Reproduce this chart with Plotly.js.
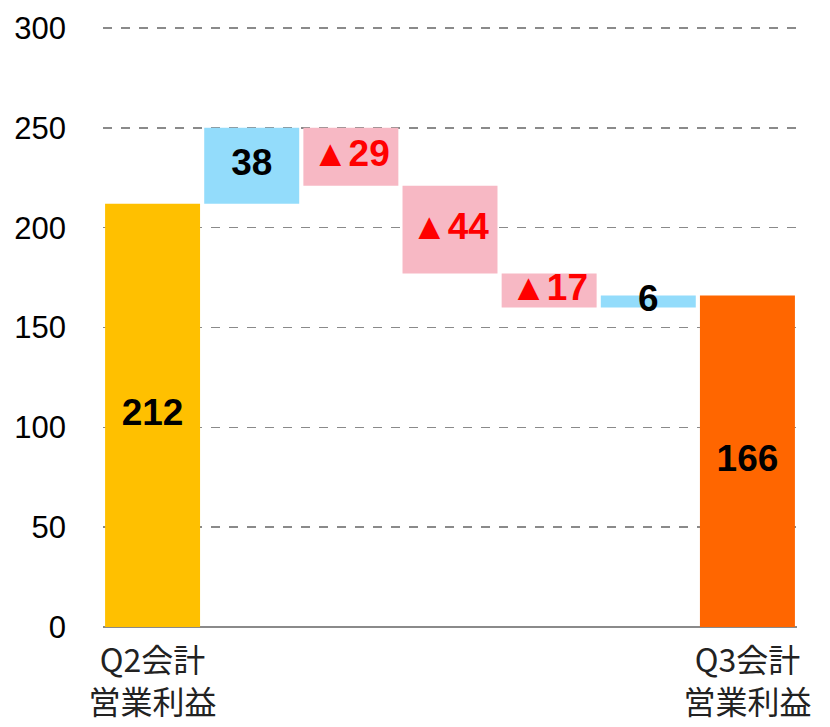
<!DOCTYPE html>
<html>
<head>
<meta charset="utf-8">
<script src="https://cdn.plot.ly/plotly-3.0.1.min.js"></script>
<style>html,body{margin:0;padding:0;background:#fff;}#chart{width:830px;height:727px;}</style>
</head>
<body>
<div id="chart"></div>
<script>
// Data
const categories = ["Q2会計営業利益", "増益要因", "減益要因A", "減益要因B", "減益要因C", "その他", "Q3会計営業利益"];
const values = [212, 38, -29, -44, -17, 6, 166];
const kinds = ["total", "relative", "relative", "relative", "relative", "relative", "total"];
const labels = ["212", "38", "▲29", "▲44", "▲17", "6", "166"];
const tickLabels = ["Q2会計<br>営業利益", "Q3会計<br>営業利益"];
const tickCats = [categories[0], categories[6]];
const yTicks = [0, 50, 100, 150, 200, 250, 300];

// Colors
const colTotalStart = "#FFC000";
const colTotalEnd = "#FF6600";
const colUp = "#93DCFB";
const colDown = "#F7B8C4";

// Compute bases and heights from values
const bases = [], heights = [], colors = [], mids = [], textColors = [];
let run = 0;
values.forEach((v, i) => {
  if (kinds[i] === "total") {
    bases.push(0); heights.push(v); run = v;
    colors.push(i === 0 ? colTotalStart : colTotalEnd);
    textColors.push("#000");
  } else {
    const lo = v >= 0 ? run : run + v;
    bases.push(lo); heights.push(Math.abs(v));
    run += v;
    colors.push(v >= 0 ? colUp : colDown);
    textColors.push(v >= 0 ? "#000" : "#FF0000");
  }
  mids.push(bases[i] + heights[i] / 2);
});

const barTrace = {
  type: "bar",
  x: categories,
  y: heights,
  base: bases,
  marker: {color: colors, line: {width: 0}},
  hoverinfo: "skip",
  showlegend: false
};

const textTrace = {
  type: "scatter",
  mode: "text",
  x: categories,
  y: mids,
  text: labels,
  textposition: "middle center",
  textfont: {family: "Liberation Sans, Arial, sans-serif", size: 37, color: textColors, weight: "bold"},
  hoverinfo: "skip",
  showlegend: false
};

const layout = {
  width: 830,
  height: 727,
  margin: {l: 103, r: 33, t: 26, b: 100},
  paper_bgcolor: "#fff",
  plot_bgcolor: "#fff",
  bargap: 0.042,
  xaxis: {
    type: "category",
    categoryorder: "array",
    categoryarray: categories,
    tickvals: tickCats,
    ticktext: tickLabels,
    tickfont: {family: "Noto Sans CJK JP, Liberation Sans, sans-serif", size: 32, color: "#222"},
    ticks: "",
    ticklabelstandoff: 12,
    showgrid: false,
    showline: false,
    zeroline: false
  },
  yaxis: {
    range: [0, 301],
    tickvals: yTicks,
    tickfont: {family: "Liberation Sans, Arial, sans-serif", size: 31, color: "#000"},
    ticks: "",
    ticklabelstandoff: 36,
    showgrid: true,
    gridcolor: "#8a8a8a",
    gridwidth: 1.5,
    griddash: "dash",
    zeroline: true,
    zerolinecolor: "#8a8a8a",
    zerolinewidth: 2,
    showline: false
  },
  font: {family: "Liberation Sans, Arial, sans-serif"}
};

Plotly.newPlot("chart", [barTrace, textTrace], layout, {displayModeBar: false, staticPlot: true});
</script>
</body>
</html>
